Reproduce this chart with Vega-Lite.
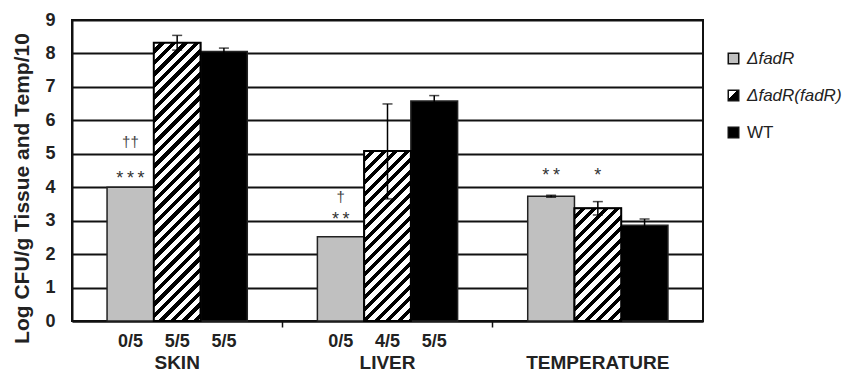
{
  "$schema": "https://vega.github.io/schema/vega-lite/v6.json",
  "width": 631,
  "height": 301,
  "autosize": "none",
  "padding": {"left": 72, "top": 20, "right": 143, "bottom": 61},
  "background": "white",
  "config": {"font": "Liberation Sans", "view": {"stroke": "#111", "strokeWidth": 2}},
  "params": [
    {"name": "hatch", "value": [{"offset":0,"color":"#fff"},{"offset":0.01833,"color":"#fff"},{"offset":0.01833,"color":"#000"},{"offset":0.03333,"color":"#000"},
{"offset":0.03333,"color":"#fff"},{"offset":0.05167,"color":"#fff"},{"offset":0.05167,"color":"#000"},{"offset":0.06667,"color":"#000"},
{"offset":0.06667,"color":"#fff"},{"offset":0.085,"color":"#fff"},{"offset":0.085,"color":"#000"},{"offset":0.1,"color":"#000"},
{"offset":0.1,"color":"#fff"},{"offset":0.11833,"color":"#fff"},{"offset":0.11833,"color":"#000"},{"offset":0.13333,"color":"#000"},
{"offset":0.13333,"color":"#fff"},{"offset":0.15167,"color":"#fff"},{"offset":0.15167,"color":"#000"},{"offset":0.16667,"color":"#000"},
{"offset":0.16667,"color":"#fff"},{"offset":0.185,"color":"#fff"},{"offset":0.185,"color":"#000"},{"offset":0.2,"color":"#000"},
{"offset":0.2,"color":"#fff"},{"offset":0.21833,"color":"#fff"},{"offset":0.21833,"color":"#000"},{"offset":0.23333,"color":"#000"},
{"offset":0.23333,"color":"#fff"},{"offset":0.25167,"color":"#fff"},{"offset":0.25167,"color":"#000"},{"offset":0.26667,"color":"#000"},
{"offset":0.26667,"color":"#fff"},{"offset":0.285,"color":"#fff"},{"offset":0.285,"color":"#000"},{"offset":0.3,"color":"#000"},
{"offset":0.3,"color":"#fff"},{"offset":0.31833,"color":"#fff"},{"offset":0.31833,"color":"#000"},{"offset":0.33333,"color":"#000"},
{"offset":0.33333,"color":"#fff"},{"offset":0.35167,"color":"#fff"},{"offset":0.35167,"color":"#000"},{"offset":0.36667,"color":"#000"},
{"offset":0.36667,"color":"#fff"},{"offset":0.385,"color":"#fff"},{"offset":0.385,"color":"#000"},{"offset":0.4,"color":"#000"},
{"offset":0.4,"color":"#fff"},{"offset":0.41833,"color":"#fff"},{"offset":0.41833,"color":"#000"},{"offset":0.43333,"color":"#000"},
{"offset":0.43333,"color":"#fff"},{"offset":0.45167,"color":"#fff"},{"offset":0.45167,"color":"#000"},{"offset":0.46667,"color":"#000"},
{"offset":0.46667,"color":"#fff"},{"offset":0.485,"color":"#fff"},{"offset":0.485,"color":"#000"},{"offset":0.5,"color":"#000"},
{"offset":0.5,"color":"#fff"},{"offset":0.51833,"color":"#fff"},{"offset":0.51833,"color":"#000"},{"offset":0.53333,"color":"#000"},
{"offset":0.53333,"color":"#fff"},{"offset":0.55167,"color":"#fff"},{"offset":0.55167,"color":"#000"},{"offset":0.56667,"color":"#000"},
{"offset":0.56667,"color":"#fff"},{"offset":0.585,"color":"#fff"},{"offset":0.585,"color":"#000"},{"offset":0.6,"color":"#000"},
{"offset":0.6,"color":"#fff"},{"offset":0.61833,"color":"#fff"},{"offset":0.61833,"color":"#000"},{"offset":0.63333,"color":"#000"},
{"offset":0.63333,"color":"#fff"},{"offset":0.65167,"color":"#fff"},{"offset":0.65167,"color":"#000"},{"offset":0.66667,"color":"#000"},
{"offset":0.66667,"color":"#fff"},{"offset":0.685,"color":"#fff"},{"offset":0.685,"color":"#000"},{"offset":0.7,"color":"#000"},
{"offset":0.7,"color":"#fff"},{"offset":0.71833,"color":"#fff"},{"offset":0.71833,"color":"#000"},{"offset":0.73333,"color":"#000"},
{"offset":0.73333,"color":"#fff"},{"offset":0.75167,"color":"#fff"},{"offset":0.75167,"color":"#000"},{"offset":0.76667,"color":"#000"},
{"offset":0.76667,"color":"#fff"},{"offset":0.785,"color":"#fff"},{"offset":0.785,"color":"#000"},{"offset":0.8,"color":"#000"},
{"offset":0.8,"color":"#fff"},{"offset":0.81833,"color":"#fff"},{"offset":0.81833,"color":"#000"},{"offset":0.83333,"color":"#000"},
{"offset":0.83333,"color":"#fff"},{"offset":0.85167,"color":"#fff"},{"offset":0.85167,"color":"#000"},{"offset":0.86667,"color":"#000"},
{"offset":0.86667,"color":"#fff"},{"offset":0.885,"color":"#fff"},{"offset":0.885,"color":"#000"},{"offset":0.9,"color":"#000"},
{"offset":0.9,"color":"#fff"},{"offset":0.91833,"color":"#fff"},{"offset":0.91833,"color":"#000"},{"offset":0.93333,"color":"#000"},
{"offset":0.93333,"color":"#fff"},{"offset":0.95167,"color":"#fff"},{"offset":0.95167,"color":"#000"},{"offset":0.96667,"color":"#000"},
{"offset":0.96667,"color":"#fff"},{"offset":0.985,"color":"#fff"},{"offset":0.985,"color":"#000"},{"offset":1,"color":"#000"}]}
  ],
  "datasets": {
    "bars": [
      {"group": "SKIN", "series": "ΔfadR", "value": 4.0, "frac": "0/5"},
      {"group": "SKIN", "series": "ΔfadR(fadR)", "value": 8.32, "lo": 8.1, "hi": 8.54, "frac": "5/5"},
      {"group": "SKIN", "series": "WT", "value": 8.06, "lo": 7.96, "hi": 8.16, "frac": "5/5"},
      {"group": "LIVER", "series": "ΔfadR", "value": 2.52, "frac": "0/5"},
      {"group": "LIVER", "series": "ΔfadR(fadR)", "value": 5.08, "lo": 3.65, "hi": 6.49, "frac": "4/5"},
      {"group": "LIVER", "series": "WT", "value": 6.58, "lo": 6.42, "hi": 6.74, "frac": "5/5"},
      {"group": "TEMPERATURE", "series": "ΔfadR", "value": 3.73, "lo": 3.7, "hi": 3.76},
      {"group": "TEMPERATURE", "series": "ΔfadR(fadR)", "value": 3.37, "lo": 3.17, "hi": 3.57},
      {"group": "TEMPERATURE", "series": "WT", "value": 2.86, "lo": 2.67, "hi": 3.05}
    ],
    "notes": [
      {"group": "SKIN", "series": "ΔfadR", "note": "*\u2009*\u2009*", "at": 4.41},
      {"group": "SKIN", "series": "ΔfadR", "note": "††", "at": 5.35},
      {"group": "LIVER", "series": "ΔfadR", "note": "*\u2009*", "at": 3.16},
      {"group": "LIVER", "series": "ΔfadR", "note": "†", "at": 3.71},
      {"group": "TEMPERATURE", "series": "ΔfadR", "note": "*\u2009*", "at": 4.5},
      {"group": "TEMPERATURE", "series": "ΔfadR(fadR)", "note": "*", "at": 4.5}
    ]
  },
  "data": {"name": "bars"},
  "encoding": {
    "x": {
      "field": "group", "type": "nominal", "sort": ["SKIN", "LIVER", "TEMPERATURE"],
      "scale": {"paddingInner": 0, "paddingOuter": 0},
      "axis": {
        "title": null, "bandPosition": 0, "labelAngle": 0,
        "labelFontSize": 19, "labelFontWeight": "bold", "labelColor": "#222",
        "labelPadding": 26, "tickSize": 6, "tickWidth": 1.5,
        "tickColor": {"condition": {"test": "datum.value === 'SKIN'", "value": "transparent"}, "value": "#111"},
        "domainColor": "#111", "domainWidth": 2, "grid": false
      }
    },
    "xOffset": {
      "field": "series", "type": "nominal", "sort": ["ΔfadR", "ΔfadR(fadR)", "WT"],
      "scale": {"paddingInner": 0, "paddingOuter": 0.75}
    }
  },
  "layer": [
    {
      "mark": {"type": "bar", "stroke": "#222", "strokeWidth": 1.5},
      "encoding": {
        "y": {
          "field": "value", "type": "quantitative", "title": "Log CFU/g Tissue and Temp/10",
          "scale": {"domain": [0, 9], "nice": false, "zero": true},
          "axis": {
            "tickCount": 45,
            "format": "d",
            "labelExpr": "abs(datum.value - round(datum.value)) < 0.001 ? datum.label : ''",
            "labelOverlap": false, "labelBound": false, "labelFlush": false,
            "labelFontSize": 18, "labelFontWeight": "bold", "labelColor": "#222", "labelPadding": 21,
            "tickSize": -4, "tickWidth": 1, "tickColor": "#111",
            "grid": true, "gridWidth": 2,
            "gridColor": {"condition": {"test": "abs(datum.value - round(datum.value)) < 0.001", "value": "#111"}, "value": "transparent"},
            "domainColor": "#111", "domainWidth": 2,
            "titleFontSize": 21, "titleFontWeight": "bold", "titleColor": "#222",
            "titleAngle": 270, "titleAlign": "center", "titleBaseline": "middle",
            "titleX": -50, "titleY": 168
          }
        },
        "color": {
          "field": "series", "type": "nominal",
          "scale": {"domain": ["ΔfadR", "ΔfadR(fadR)", "WT"], "range": ["#c0c0c0", {"expr": "{gradient: 'linear', x1: 0, y1: 0, x2: 1, y2: 1, stops: [{offset: 0, color: '#fff'}, {offset: 0.42, color: '#fff'}, {offset: 0.42, color: '#000'}, {offset: 1, color: '#000'}]}"}, "#000000"]},
          "legend": {
            "title": null, "orient": "none", "legendX": 653, "legendY": 30,
            "symbolType": "square", "symbolSize": 110, "symbolStrokeColor": "#111", "symbolStrokeWidth": 1.5,
            "labelFontSize": 17, "labelColor": "#222", "labelOffset": 5, "rowPadding": 19, "padding": 0,
            "encode": {
              "symbols": {"update": {"stroke": {"value": "#111"}, "strokeWidth": {"value": 1.5}}},
              "labels": {"update": {"fontStyle": {"signal": "datum.value === 'WT' ? 'normal' : 'italic'"}}}
            }
          }
        }
      }
    },
    {
      "transform": [{"filter": "datum.series === 'ΔfadR(fadR)'"}],
      "mark": {
        "type": "bar", "stroke": "#000", "strokeWidth": 2,
        "fill": {"expr": "{gradient: 'linear', x1: 0, y1: 0, x2: bandwidth('xOffset') * 345 / (pow(bandwidth('xOffset'), 2) + pow(scale('y', 0) - scale('y', datum.value), 2)), y2: (scale('y', 0) - scale('y', datum.value)) * 345 / (pow(bandwidth('xOffset'), 2) + pow(scale('y', 0) - scale('y', datum.value), 2)), stops: hatch}"}
      },
      "encoding": {
        "y": {"field": "value", "type": "quantitative", "title": "Log CFU/g Tissue and Temp/10"}
      }
    },
    {
      "transform": [{"filter": "isValid(datum.hi)"}],
      "mark": {"type": "rule", "color": "#000", "strokeWidth": 1.5},
      "encoding": {
        "y": {"field": "lo", "type": "quantitative", "title": "Log CFU/g Tissue and Temp/10"},
        "y2": {"field": "hi"}
      }
    },
    {
      "transform": [{"filter": "isValid(datum.hi)"}],
      "mark": {"type": "tick", "color": "#000", "size": 10, "thickness": 1.5},
      "encoding": {
        "y": {"field": "hi", "type": "quantitative", "title": "Log CFU/g Tissue and Temp/10"}
      }
    },
    {
      "transform": [{"filter": "isValid(datum.lo)"}],
      "mark": {"type": "tick", "color": "#000", "size": 10, "thickness": 1.5},
      "encoding": {
        "y": {"field": "lo", "type": "quantitative", "title": "Log CFU/g Tissue and Temp/10"}
      }
    },
    {
      "transform": [{"filter": "isValid(datum.frac)"}],
      "mark": {"type": "text", "fontSize": 18, "fontWeight": "bold", "color": "#222", "baseline": "middle", "dy": 21},
      "encoding": {
        "y": {"datum": 0, "type": "quantitative"},
        "text": {"field": "frac"}
      }
    },
    {
      "data": {"name": "notes"},
      "transform": [{"filter": "indexof(datum.note, '*') >= 0"}],
      "mark": {"type": "text", "fontSize": 18, "color": "#333", "baseline": "middle", "dy": 5},
      "encoding": {
        "y": {"field": "at", "type": "quantitative"},
        "text": {"field": "note"}
      }
    },
    {
      "data": {"name": "notes"},
      "transform": [{"filter": "indexof(datum.note, '*') < 0"}],
      "mark": {"type": "text", "fontSize": 15, "color": "#444", "baseline": "middle"},
      "encoding": {
        "y": {"field": "at", "type": "quantitative"},
        "text": {"field": "note"}
      }
    }
  ]
}
